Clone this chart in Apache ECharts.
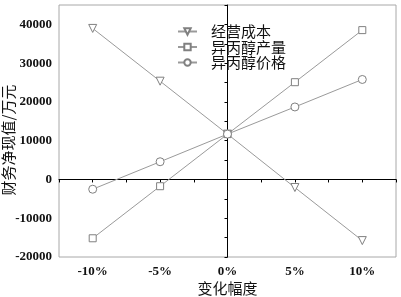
<!DOCTYPE html>
<html><head><meta charset="utf-8">
<script src="https://cdn.jsdelivr.net/npm/echarts@6/dist/echarts.min.js"></script>
<style>html,body{margin:0;padding:0;background:#fff}#c{width:401px;height:297px}</style>
</head><body><div id="c"></div>
<script>
const categories = [-10, -5, 0, 5, 10];
const seriesNames = ['经营成本', '异丙醇产量', '异丙醇价格'];
const costValues = [38960, 25350, 11700, -2080, -15770];
const outputValues = [-15170, -1740, 11700, 25090, 38520];
const priceValues = [-2520, 4570, 11700, 18700, 25790];
const xAxisName = '变化幅度';
const yAxisName = '财务净现值/万元';

const numFont = 'Liberation Serif';
const cjkFont = 'Noto Sans CJK SC';
const lineColor = '#9a9a9a';
const markerStyle = {color: '#fff', borderColor: '#808080', borderWidth: 1};

function pairs(vals){ return categories.map((c,i)=>[c, vals[i]]); }

const chart = echarts.init(document.getElementById('c'), null, {renderer:'canvas'});
chart.setOption({
  animation: false,
  backgroundColor: '#fff',
  grid: {left: 59, right: 5, top: 5, bottom: 40, show: true, borderColor: '#a8a8a8', borderWidth: 1,
    containLabel: false, outerBoundsMode: 'none'},
  legend: {
    orient: 'vertical', left: 172, top: 19, itemWidth: 19, itemHeight: 8, itemGap: 0.5,
    textStyle: {fontFamily: cjkFont, fontSize: 15, lineHeight: 14, color: '#111', padding: [0,0,0,9]},
    data: seriesNames
  },
  xAxis: {
    type: 'value', min: -12.5, max: 12.5, interval: 2.5,
    name: xAxisName, nameLocation: 'middle', nameGap: 24, nameMoveOverlap: false,
    nameTextStyle: {fontFamily: cjkFont, fontSize: 15, color: '#111'},
    axisLine: {lineStyle: {color: '#000', width: 1}},
    axisTick: {show: true, inside: false, length: 3, lineStyle: {color: '#000'}},
    splitLine: {show: false},
    axisLabel: {fontFamily: numFont, fontSize: 13, fontWeight: 'bold', color: '#111', margin: 8,
      formatter: v => (Math.abs(v) % 5 === 0 && Math.abs(v) <= 10) ? (v + '%') : ''}
  },
  yAxis: {
    type: 'value', min: -20000, max: 45000, interval: 5000,
    name: yAxisName, nameLocation: 'middle', nameGap: 43, nameMoveOverlap: false,
    nameTextStyle: {fontFamily: cjkFont, fontSize: 15, color: '#111', padding: [0, 18, 0, 0]},
    axisLine: {show: true, lineStyle: {color: '#000', width: 1}},
    axisTick: {show: true, inside: false, length: 3, lineStyle: {color: '#000'}},
    splitLine: {show: false},
    axisLabel: {fontFamily: numFont, fontSize: 13, fontWeight: 'bold', color: '#111', margin: 7,
      formatter: v => (v % 10000 === 0 && v <= 40000) ? String(v) : ''}
  },
  series: [
    {name: seriesNames[0], type: 'line', data: pairs(costValues), symbol: 'triangle', symbolRotate: 180, symbolSize: 8,
      lineStyle: {color: lineColor, width: 1}, itemStyle: markerStyle, color: lineColor},
    {name: seriesNames[1], type: 'line', data: pairs(outputValues), symbol: 'rect', symbolSize: 7,
      lineStyle: {color: lineColor, width: 1}, itemStyle: markerStyle, color: lineColor},
    {name: seriesNames[2], type: 'line', data: pairs(priceValues), symbol: 'circle', symbolSize: 8,
      lineStyle: {color: lineColor, width: 1}, itemStyle: markerStyle, color: lineColor}
  ]
});
</script></body></html>
